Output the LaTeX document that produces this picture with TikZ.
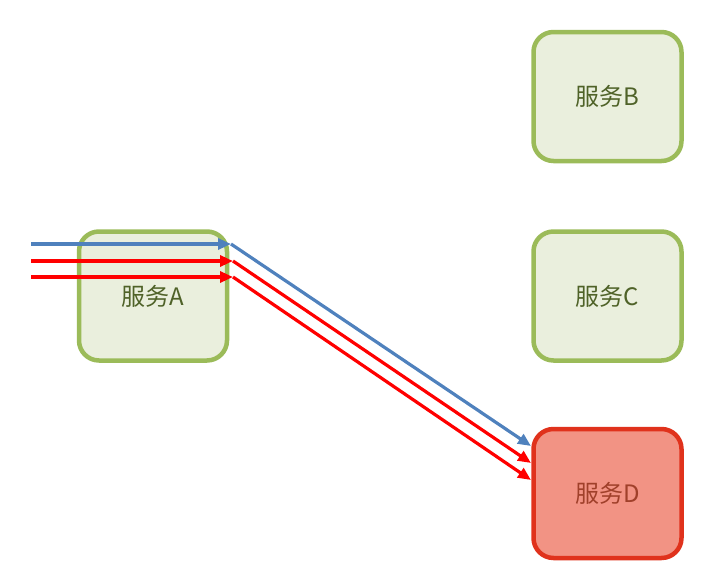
\documentclass[tikz,border=0pt]{standalone}
\usepackage{fontspec}
\newfontfamily\cjk{Noto Sans CJK SC}
\usetikzlibrary{arrows.meta}
\definecolor{boxfill}{HTML}{EAEFDD}
\definecolor{boxline}{HTML}{9BBB59}
\definecolor{boxtext}{HTML}{4F6228}
\definecolor{dfill}{HTML}{F29384}
\definecolor{dline}{HTML}{E0321C}
\definecolor{dtext}{HTML}{A0402A}
\definecolor{flowblue}{HTML}{4F81BD}
\definecolor{flowred}{HTML}{FF0000}
\tikzset{
  svc/.style={draw=boxline, fill=boxfill, line width=4.5pt, rounded corners=20pt,
    minimum width=148pt, minimum height=129pt, inner sep=0pt, text=boxtext,
    font=\cjk\fontsize{24}{28}\selectfont},
  svcbad/.style={svc, draw=dline, fill=dfill, text=dtext},
  flow/.style={line width=3.2pt, -{Triangle[length=13pt,width=11pt]}},
  blueflow/.style={flow, draw=flowblue, fill=flowblue},
  redflow/.style={flow, draw=flowred, fill=flowred},
}
\begin{document}
\begin{tikzpicture}[x=1pt,y=-1pt]
\useasboundingbox (0,0) rectangle (704,573);
\node[svc] (A) at (153,296) {服务A};
\node[svc] (B) at (607.5,96.5) {服务B};
\node[svc] (C) at (607.5,296) {服务C};
\node[svcbad] (D) at (607.5,493.5) {服务D};
\coordinate (s1) at (31,244);
\coordinate (s2) at (31,261);
\coordinate (s3) at (31,277);
\coordinate (a1) at (231,244);
\coordinate (a2) at (233,261);
\coordinate (a3) at (233,277);
\coordinate (d1) at (531,446);
\coordinate (d2) at (531,463);
\coordinate (d3) at (531,480);
\draw[blueflow] (s1) -- (a1);
\draw[redflow] (s2) -- (a2);
\draw[redflow] (s3) -- (a3);
\draw[blueflow] (a1) -- (d1);
\draw[redflow] (a2) -- (d2);
\draw[redflow] (a3) -- (d3);
\end{tikzpicture}
\end{document}
